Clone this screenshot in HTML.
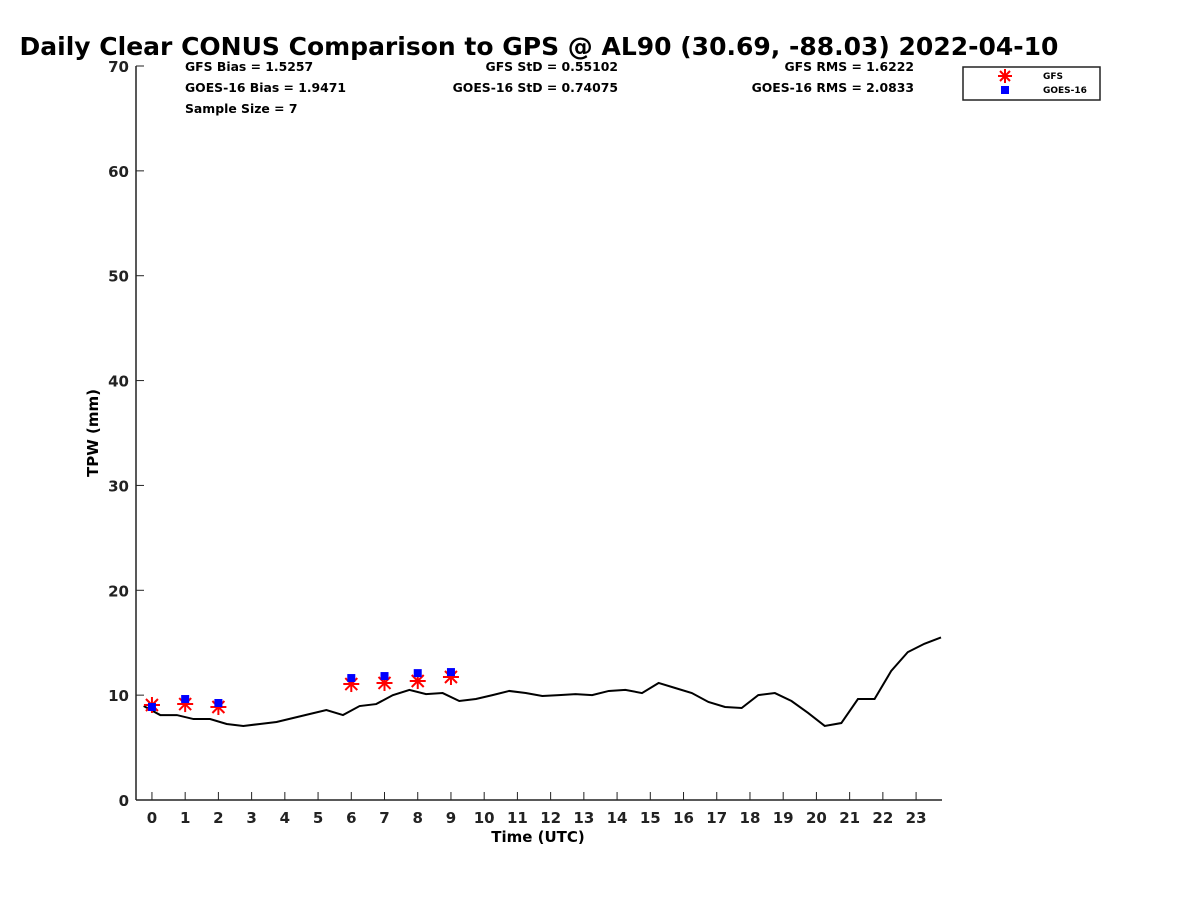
<!DOCTYPE html>
<html><head><meta charset="utf-8"><style>
html,body{margin:0;padding:0;background:#fff;}
svg text{font-family:"DejaVu Sans","Liberation Sans",sans-serif;font-weight:bold;}
</style></head><body>
<svg id="chart" width="1200" height="900" xmlns="http://www.w3.org/2000/svg">
<text x="539" y="55" font-size="25" text-anchor="middle">Daily Clear CONUS Comparison to GPS @ AL90 (30.69, -88.03) 2022-04-10</text>
<g font-size="12.4">
<text x="185" y="71">GFS Bias = 1.5257</text>
<text x="185" y="92">GOES-16 Bias = 1.9471</text>
<text x="185" y="113">Sample Size = 7</text>
<text x="618" y="71" text-anchor="end">GFS StD = 0.55102</text>
<text x="618" y="92" text-anchor="end">GOES-16 StD = 0.74075</text>
<text x="914" y="71" text-anchor="end">GFS RMS = 1.6222</text>
<text x="914" y="92" text-anchor="end">GOES-16 RMS = 2.0833</text>
</g>
<g id="axes"></g>
<g id="marks"></g>
<text x="538" y="842" font-size="15" text-anchor="middle">Time (UTC)</text>
<text transform="translate(98,433) rotate(-90)" font-size="15" text-anchor="middle">TPW (mm)</text>
<g>
<rect x="963" y="67" width="137" height="33" fill="#fff" stroke="#222" stroke-width="1.5"/>
<g stroke="#f00" stroke-width="2">
<line x1="1005" y1="69" x2="1005" y2="83"/><line x1="998" y1="76" x2="1012" y2="76"/><line x1="1000" y1="71" x2="1010" y2="81"/><line x1="1000" y1="81" x2="1010" y2="71"/></g>
<rect x="1001" y="86" width="8" height="8" fill="#00f"/>
<text x="1043" y="79" font-size="9">GFS</text>
<text x="1043" y="93" font-size="9">GOES-16</text>
</g>
</svg>
<script>
const xTicks=[0,1,2,3,4,5,6,7,8,9,10,11,12,13,14,15,16,17,18,19,20,21,22,23];
const yTicks=[0,10,20,30,40,50,60,70];
const gpsHours=[-0.25,0.25,0.75,1.25,1.75,2.25,2.75,3.25,3.75,4.25,4.75,5.25,5.75,6.25,6.75,7.25,7.75,8.25,8.75,9.25,9.75,10.25,10.75,11.25,11.75,12.25,12.75,13.25,13.75,14.25,14.75,15.25,15.75,16.25,16.75,17.25,17.75,18.25,18.75,19.25,19.75,20.25,20.75,21.25,21.75,22.25,22.75,23.25,23.75];
const gpsValues=[8.96,8.1,8.1,7.72,7.72,7.25,7.06,7.25,7.44,7.82,8.2,8.58,8.1,8.96,9.15,10.0,10.5,10.1,10.2,9.44,9.63,10.0,10.4,10.2,9.92,10.0,10.1,10.0,10.4,10.5,10.2,11.16,10.68,10.2,9.35,8.87,8.77,10.0,10.2,9.44,8.3,7.06,7.34,9.63,9.63,12.3,14.1,14.9,15.5];
const obsHours=[0,1,2,6,7,8,9];
const gfsValues=[9.06,9.15,8.87,11.06,11.16,11.35,11.73];
const goesValues=[8.87,9.63,9.25,11.63,11.82,12.1,12.2];
const NS="http://www.w3.org/2000/svg";
const X0=136,X1=942,Y0=800,Y1=66,XMIN=-0.48,XMAX=23.78,YMIN=0,YMAX=70;
const sx=v=>X0+(v-XMIN)/(XMAX-XMIN)*(X1-X0);
const sy=v=>Y0-(v-YMIN)/(YMAX-YMIN)*(Y0-Y1);
function mk(tag,attrs,parent){const e=document.createElementNS(NS,tag);for(const k in attrs)e.setAttribute(k,attrs[k]);parent.appendChild(e);return e;}
const axes=document.getElementById('axes'),marks=document.getElementById('marks');
const xa=mk('line',{x1:X0,y1:Y0,x2:X1,y2:Y0,stroke:'#222','stroke-width':1.5},axes);


const ya=mk('line',{x1:X0,y1:Y0,x2:X0,y2:Y1,stroke:'#222','stroke-width':1.5},axes);


xTicks.forEach(t=>{const x=sx(t);
 mk('line',{x1:x,y1:Y0,x2:x,y2:Y0-8,stroke:'#222','stroke-width':1},axes);
 const tx=mk('text',{x:x,y:Y0+23,'font-size':15,'text-anchor':'middle',fill:'#222'},axes);tx.textContent=t;
 
 });
yTicks.forEach(t=>{const y=sy(t);
 mk('line',{x1:X0,y1:y,x2:X0+8,y2:y,stroke:'#222','stroke-width':1},axes);
 const tx=mk('text',{x:X0-7,y:y+6,'font-size':15,'text-anchor':'end',fill:'#222'},axes);tx.textContent=t;
 
 });
const pl=mk('polyline',{points:gpsHours.map((h,i)=>sx(h)+','+sy(gpsValues[i])).join(' '),fill:'none',stroke:'#000','stroke-width':2},marks);


obsHours.forEach((h,i)=>{const x=sx(h),y=sy(gfsValues[i]);
 const g=mk('g',{stroke:'#f00','stroke-width':2},marks);
 
 
 mk('line',{x1:x,y1:y-8,x2:x,y2:y+8},g);mk('line',{x1:x-8,y1:y,x2:x+8,y2:y},g);
 mk('line',{x1:x-6,y1:y-6,x2:x+6,y2:y+6},g);mk('line',{x1:x-6,y1:y+6,x2:x+6,y2:y-6},g);});
obsHours.forEach((h,i)=>{const x=sx(h),y=sy(goesValues[i]);
 const r=mk('rect',{x:x-4,y:y-4,width:8,height:8,fill:'#00f'},marks);
 
 });
</script>
</body></html>
